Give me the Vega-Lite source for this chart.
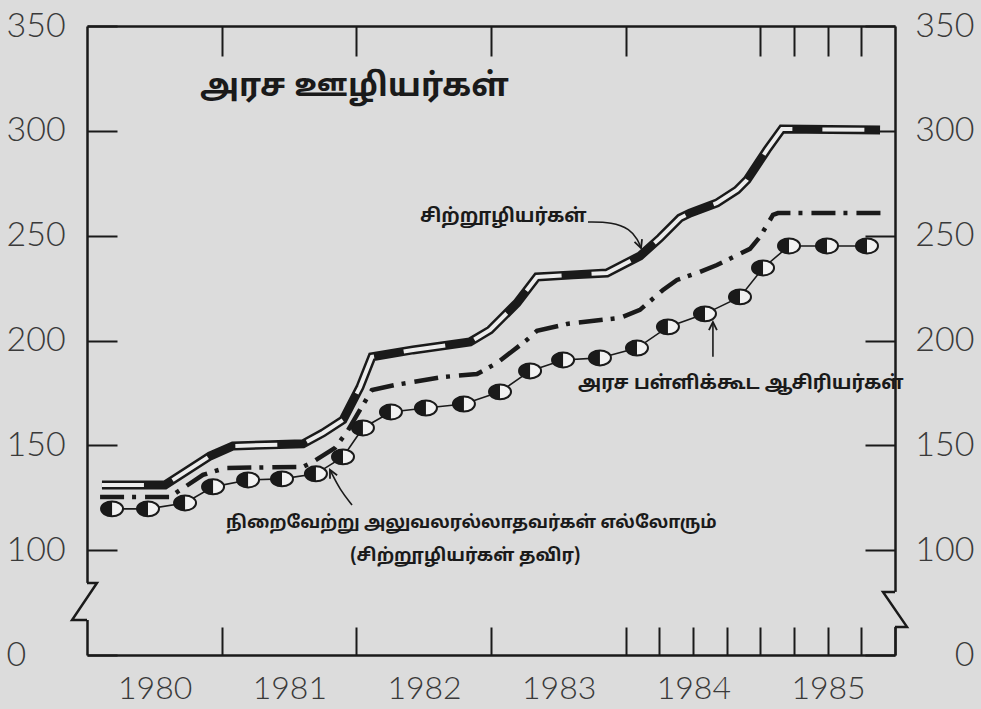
{
  "$schema": "https://vega.github.io/schema/vega-lite/v6.json",
  "width": 808,
  "height": 629,
  "autosize": {"type": "none"},
  "padding": {"left": 87, "top": 26, "right": 86, "bottom": 54},
  "background": "#dcdcdc",
  "config": {
    "view": {"stroke": null},
    "axis": {"grid": false, "title": null, "labelFont": "Lato", "labelFontWeight": 300, "labelFontSize": 32, "labelColor": "#3a3a3a", "domainColor": "#1a1a1a", "domainWidth": 2.5, "tickColor": "#1a1a1a", "tickWidth": 2, "labelOverlap": false, "labelBound": false, "labelFlush": false}
  },
  "datasets": {
    "staff": [{"yr":1980.111,"v":131.1},{"yr":1980.579,"v":131.1},{"yr":1980.913,"v":144.9},{"yr":1981.084,"v":149.7},{"yr":1981.604,"v":150.7},{"yr":1981.752,"v":155.9},{"yr":1981.901,"v":162.1},{"yr":1982.027,"v":177.8},{"yr":1982.116,"v":192.2},{"yr":1982.421,"v":195.5},{"yr":1982.844,"v":199.3},{"yr":1982.993,"v":205.0},{"yr":1983.193,"v":217.9},{"yr":1983.341,"v":230.3},{"yr":1983.609,"v":231.3},{"yr":1983.861,"v":232.2},{"yr":1984.106,"v":240.3},{"yr":1984.255,"v":248.9},{"yr":1984.403,"v":258.4},{"yr":1984.478,"v":260.8},{"yr":1984.678,"v":265.6},{"yr":1984.827,"v":271.8},{"yr":1984.901,"v":276.6},{"yr":1985.049,"v":290.9},{"yr":1985.161,"v":300.9},{"yr":1985.889,"v":300.4}],
    "nonexec": [{"yr":1980.097,"v":125.4},{"yr":1980.616,"v":125.4},{"yr":1980.861,"v":135.9},{"yr":1981.025,"v":139.2},{"yr":1981.604,"v":139.7},{"yr":1981.678,"v":142.1},{"yr":1981.842,"v":148.8},{"yr":1981.931,"v":156.4},{"yr":1982.027,"v":166.9},{"yr":1982.116,"v":176.4},{"yr":1982.287,"v":178.8},{"yr":1982.643,"v":182.6},{"yr":1982.896,"v":184.0},{"yr":1983.045,"v":189.3},{"yr":1983.267,"v":200.3},{"yr":1983.341,"v":204.6},{"yr":1983.564,"v":207.9},{"yr":1983.958,"v":210.8},{"yr":1984.106,"v":214.6},{"yr":1984.277,"v":224.1},{"yr":1984.381,"v":228.9},{"yr":1984.552,"v":232.7},{"yr":1984.678,"v":236.0},{"yr":1984.923,"v":243.7},{"yr":1984.997,"v":249.4},{"yr":1985.094,"v":259.9},{"yr":1985.131,"v":260.8},{"yr":1985.903,"v":260.8}],
    "teachers": [{"yr":1980.186,"v":119.7},{"yr":1980.453,"v":119.7},{"yr":1980.728,"v":122.5},{"yr":1980.936,"v":130.2},{"yr":1981.196,"v":133.5},{"yr":1981.448,"v":134.0},{"yr":1981.700,"v":136.4},{"yr":1981.901,"v":144.5},{"yr":1982.049,"v":158.3},{"yr":1982.257,"v":165.9},{"yr":1982.517,"v":167.8},{"yr":1982.799,"v":169.7},{"yr":1983.067,"v":175.5},{"yr":1983.290,"v":185.5},{"yr":1983.535,"v":190.7},{"yr":1983.809,"v":191.7},{"yr":1984.084,"v":196.4},{"yr":1984.314,"v":206.5},{"yr":1984.589,"v":212.7},{"yr":1984.849,"v":220.8},{"yr":1985.020,"v":234.6},{"yr":1985.213,"v":245.1},{"yr":1985.495,"v":245.1},{"yr":1985.792,"v":245.1}],
    "arrowStaff": [{"yr":1983.720,"v":256.5,"i":0},{"yr":1983.898,"v":256.5,"i":1},{"yr":1984.032,"v":253.2,"i":2},{"yr":1984.091,"v":248.0,"i":3},{"yr":1984.114,"v":244.1,"i":4}],
    "arrowTeach": [{"yr":1984.648,"v":192.2,"i":0},{"yr":1984.648,"v":208.8,"i":1}],
    "arrowNon": [{"yr":1981.968,"v":121.6,"i":0},{"yr":1981.879,"v":128.7,"i":1},{"yr":1981.804,"v":138.3,"i":2}],
    "gaps": [{"yr":1980,"v":84.4,"v2":66.7},{"yr":1986,"v":80.1,"v2":63.4}],
    "zigzag": [{"side":"L","yr":1980,"v":84.4,"i":0},{"side":"L","yr":1980.074,"v":84.4,"i":1},{"side":"L","yr":1979.889,"v":66.7,"i":2},{"side":"L","yr":1980,"v":66.7,"i":3},{"side":"R","yr":1986,"v":80.1,"i":0},{"side":"R","yr":1985.911,"v":80.1,"i":1},{"side":"R","yr":1986.089,"v":63.4,"i":2},{"side":"R","yr":1986,"v":63.4,"i":3}]
  },
  "encoding": {
    "x": {"field": "yr", "type": "quantitative", "scale": {"domain": [1980, 1986], "nice": false, "zero": false}, "axis": null},
    "y": {"field": "v", "type": "quantitative", "scale": {"domain": [50, 350], "nice": false, "zero": false}, "axis": null}
  },
  "resolve": {"axis": {"x": "independent", "y": "independent"}},
  "layer": [
    {
      "data": {"name": "teachers"},
      "mark": {"type": "line", "color": "#1a1a1a", "strokeWidth": 1.6},
      "encoding": {
        "x": {"field": "yr", "type": "quantitative", "scale": {"domain": [1980, 1986], "nice": false, "zero": false},
          "axis": {"orient": "bottom", "values": [1981, 1982, 1983, 1984, 1984.25, 1984.5, 1984.75, 1985, 1985.25, 1985.5, 1985.75, 1986], "tickSize": -28, "labelOffset": -67, "labelPadding": 46, "labelExpr": "datum.value % 1 == 0 ? '' + (datum.value - 1) : ''"}},
        "y": {"field": "v", "type": "quantitative", "scale": {"domain": [50, 350], "nice": false, "zero": false},
          "axis": {"orient": "left", "values": [50, 100, 150, 200, 250, 300, 350], "tickSize": -30, "labelFontSize": 34, "labelAlign": "left", "labelPadding": 111, "labelExpr": "datum.value == 50 ? '0' : '' + datum.value"}}
      }
    },
    {
      "data": {"name": "teachers"},
      "mark": {"type": "point", "shape": "M-1,0A1,0.68,0,1,1,1,0A1,0.68,0,1,1,-1,0Z", "size": 484, "filled": true, "fill": "#f2f2f2", "stroke": "#1a1a1a", "strokeWidth": 2, "opacity": 1},
      "encoding": {
        "x": {"field": "yr", "type": "quantitative", "scale": {"domain": [1980, 1986], "nice": false, "zero": false},
          "axis": {"orient": "top", "values": [1981, 1982, 1983, 1984, 1985, 1985.25, 1985.5, 1985.75], "tickSize": -30, "labels": false}},
        "y": {"field": "v", "type": "quantitative", "scale": {"domain": [50, 350], "nice": false, "zero": false},
          "axis": {"orient": "right", "values": [50, 100, 150, 200, 250, 300, 350], "tickSize": -30, "labelFontSize": 34, "labelAlign": "right", "labelPadding": 109, "labelExpr": "datum.value == 50 ? '0' : '' + datum.value"}}
      }
    },
    {
      "data": {"name": "teachers"},
      "mark": {"type": "point", "shape": "M0,-0.68A1,0.68,0,0,0,0,0.68Z", "size": 484, "filled": true, "fill": "#1a1a1a", "strokeWidth": 0, "opacity": 1}
    },
    {
      "data": {"name": "nonexec"},
      "mark": {"type": "line", "color": "#1a1a1a", "strokeWidth": 4.5, "strokeDash": [24, 8, 4, 9], "strokeCap": "butt"}
    },
    {
      "data": {"name": "staff"},
      "mark": {"type": "line", "color": "#1a1a1a", "strokeWidth": 9}
    },
    {
      "data": {"name": "staff"},
      "mark": {"type": "line", "color": "#ececec", "strokeWidth": 4, "strokeDash": [42, 30]}
    },
    {
      "data": {"name": "arrowStaff"},
      "mark": {"type": "line", "color": "#1a1a1a", "strokeWidth": 1.6, "interpolate": "basis"},
      "encoding": {"order": {"field": "i"}}
    },
    {
      "data": {"name": "arrowTeach"},
      "mark": {"type": "line", "color": "#1a1a1a", "strokeWidth": 1.6},
      "encoding": {"order": {"field": "i"}}
    },
    {
      "data": {"name": "arrowNon"},
      "mark": {"type": "line", "color": "#1a1a1a", "strokeWidth": 1.6, "interpolate": "basis"},
      "encoding": {"order": {"field": "i"}}
    },
    {
      "data": {"values": [{"yr": 1984.114, "v": 244.1}]},
      "mark": {"type": "point", "shape": "M-0.5,1L0,0L0.5,1", "size": 256, "filled": false, "stroke": "#1a1a1a", "strokeWidth": 1.8, "opacity": 1, "angle": 160}
    },
    {
      "data": {"values": [{"yr": 1984.648, "v": 208.8}]},
      "mark": {"type": "point", "shape": "M-0.5,1L0,0L0.5,1", "size": 256, "filled": false, "stroke": "#1a1a1a", "strokeWidth": 1.8, "opacity": 1, "angle": 0}
    },
    {
      "data": {"values": [{"yr": 1981.804, "v": 138.3}]},
      "mark": {"type": "point", "shape": "M-0.5,1L0,0L0.5,1", "size": 256, "filled": false, "stroke": "#1a1a1a", "strokeWidth": 1.8, "opacity": 1, "angle": 333}
    },
    {
      "data": {"name": "gaps"},
      "mark": {"type": "rule", "color": "#dcdcdc", "strokeWidth": 6},
      "encoding": {"y2": {"field": "v2"}}
    },
    {
      "data": {"name": "zigzag"},
      "mark": {"type": "line", "color": "#1a1a1a", "strokeWidth": 2.5},
      "encoding": {"order": {"field": "i"}, "detail": {"field": "side"}}
    },
    {
      "data": {"values": [{"yr": 1980.839, "v": 321.4, "label": "அரச ஊழியர்கள்"}]},
      "mark": {"type": "text", "align": "left", "font": "Noto Sans Tamil, Lohit Tamil, sans-serif", "fontSize": 32, "fontWeight": "bold", "color": "#1a1a1a"},
      "encoding": {"text": {"field": "label"}}
    },
    {
      "data": {"values": [
        {"yr": 1982.473, "v": 259.4, "label": "சிற்றூழியர்கள்"},
        {"yr": 1983.646, "v": 179.8, "label": "அரச பள்ளிக்கூட ஆசிரியர்கள்"}
      ]},
      "mark": {"type": "text", "align": "left", "font": "Noto Sans Tamil, Lohit Tamil, sans-serif", "fontSize": 19, "fontWeight": "bold", "color": "#1a1a1a"},
      "encoding": {"text": {"field": "label"}}
    },
    {
      "data": {"values": [
        {"yr": 1981.032, "v": 113.0, "label": "நிறைவேற்று அலுவலரல்லாதவர்கள் எல்லோரும்"}
      ]},
      "mark": {"type": "text", "align": "left", "font": "Noto Sans Tamil, Lohit Tamil, sans-serif", "fontSize": 17.5, "fontWeight": "bold", "color": "#1a1a1a"},
      "encoding": {"text": {"field": "label"}}
    },
    {
      "data": {"values": [
        {"yr": 1981.955, "v": 97.3, "label": "(சிற்றூழியர்கள் தவிர)"}
      ]},
      "mark": {"type": "text", "align": "left", "font": "Noto Sans Tamil, Lohit Tamil, sans-serif", "fontSize": 18, "fontWeight": "bold", "color": "#1a1a1a"},
      "encoding": {"text": {"field": "label"}}
    }
  ]
}
